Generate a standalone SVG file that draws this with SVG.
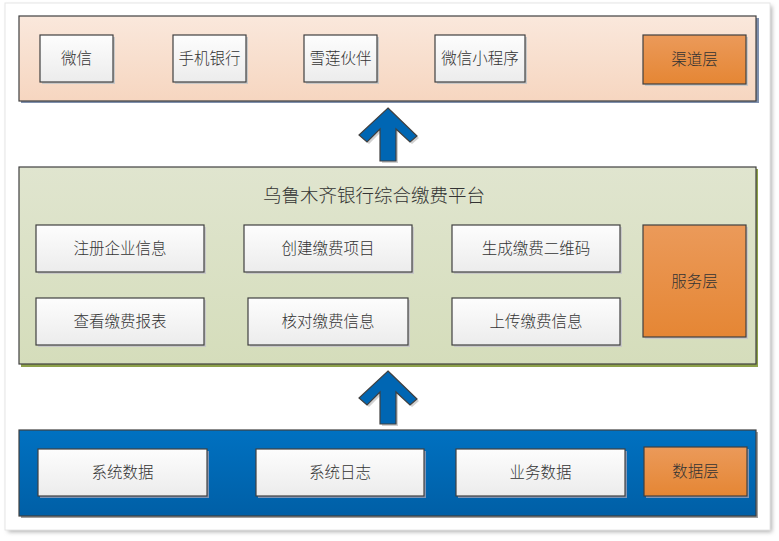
<svg xmlns="http://www.w3.org/2000/svg" width="779" height="541" viewBox="0 0 779 541">
<defs>
<linearGradient id="gPeach" x1="0" y1="0" x2="0" y2="1"><stop offset="0" stop-color="#fae8dc"/><stop offset="1" stop-color="#f6d6c0"/></linearGradient>
<linearGradient id="gGreen" x1="0" y1="0" x2="0" y2="1"><stop offset="0" stop-color="#e0e5cf"/><stop offset="1" stop-color="#d5ddbb"/></linearGradient>
<linearGradient id="gBlue" x1="0" y1="0" x2="0" y2="1"><stop offset="0" stop-color="#0071c1"/><stop offset="1" stop-color="#005fa6"/></linearGradient>
<linearGradient id="gBox" x1="0" y1="0" x2="0" y2="1"><stop offset="0" stop-color="#fdfdfd"/><stop offset="1" stop-color="#ececec"/></linearGradient>
<linearGradient id="gOrange" x1="0" y1="0" x2="0" y2="1"><stop offset="0" stop-color="#eb9a5a"/><stop offset="1" stop-color="#e58634"/></linearGradient>
<filter id="soft" x="-5%" y="-5%" width="110%" height="110%"><feGaussianBlur stdDeviation="2"/></filter>
</defs>
<style>
.box{fill:url(#gBox);stroke:#404040;stroke-width:1.2}
.org{fill:url(#gOrange);stroke:#404040;stroke-width:1.2}
.sh{fill:#c8c8c8}
.bsh{fill:#7f95b5}
.t{font-family:"Noto Sans CJK SC","Liberation Sans",sans-serif;font-size:15.5px;font-weight:300;fill:#333;text-anchor:middle;dominant-baseline:central}
.arrow{fill:#0066b3;stroke:#404040;stroke-width:1.2;stroke-linejoin:miter}
</style>
<!-- outer frame -->
<rect x="8" y="6" width="764" height="526" fill="#b0b0b0" filter="url(#soft)"/>
<rect x="5" y="3" width="765" height="527" fill="#ffffff" stroke="#e6e6e6" stroke-width="1"/>

<!-- channel layer -->
<g id="channel-layer">
<rect x="21" y="18" width="738" height="85" fill="#7f90ad"/>
<rect x="19" y="16" width="737" height="85" fill="url(#gPeach)" stroke="#404040" stroke-width="1.2"/>
</g>
<g id="n-weixin"><rect class="sh" x="42" y="37" width="73" height="47"/><rect class="box" x="40" y="35" width="73" height="47"/><text class="t" x="76.5" y="57">微信</text></g>
<g id="n-mobile"><rect class="sh" x="175" y="37" width="73" height="47"/><rect class="box" x="173" y="35" width="73" height="47"/><text class="t" x="209.5" y="57">手机银行</text></g>
<g id="n-xuelian"><rect class="sh" x="306" y="37" width="73" height="47"/><rect class="box" x="304" y="35" width="73" height="47"/><text class="t" x="340.5" y="57">雪莲伙伴</text></g>
<g id="n-miniapp"><rect class="sh" x="437" y="37" width="90" height="47"/><rect class="box" x="435" y="35" width="90" height="47"/><text class="t" x="480" y="57">微信小程序</text></g>
<g id="n-channel"><rect class="sh" x="645" y="37" width="103" height="49"/><rect class="org" x="643" y="35" width="103" height="49"/><text class="t" x="694.5" y="58">渠道层</text></g>

<!-- service layer -->
<g id="service-layer">
<rect x="21" y="169" width="737" height="198" fill="#8ea24a"/>
<rect x="19" y="167" width="737" height="197" fill="url(#gGreen)" stroke="#404040" stroke-width="1.2"/>
<text x="374" y="193.5" font-family="&quot;Noto Sans CJK SC&quot;,&quot;Liberation Sans&quot;,sans-serif" font-size="18.5" font-weight="300" fill="#333" text-anchor="middle" dominant-baseline="central">乌鲁木齐银行综合缴费平台</text>
</g>
<g id="n-register"><rect class="sh" x="38" y="227" width="168" height="47"/><rect class="box" x="36" y="225" width="168" height="47"/><text class="t" x="120" y="247">注册企业信息</text></g>
<g id="n-create"><rect class="sh" x="246" y="227" width="168" height="47"/><rect class="box" x="244" y="225" width="168" height="47"/><text class="t" x="328" y="247">创建缴费项目</text></g>
<g id="n-qrcode"><rect class="sh" x="454" y="227" width="168" height="47"/><rect class="box" x="452" y="225" width="168" height="47"/><text class="t" x="536" y="247">生成缴费二维码</text></g>
<g id="n-report"><rect class="sh" x="38" y="300" width="168" height="47"/><rect class="box" x="36" y="298" width="168" height="47"/><text class="t" x="120" y="320">查看缴费报表</text></g>
<g id="n-verify"><rect class="sh" x="250" y="300" width="160" height="47"/><rect class="box" x="248" y="298" width="160" height="47"/><text class="t" x="328" y="320">核对缴费信息</text></g>
<g id="n-upload"><rect class="sh" x="454" y="300" width="168" height="47"/><rect class="box" x="452" y="298" width="168" height="47"/><text class="t" x="536" y="320">上传缴费信息</text></g>
<g id="n-service"><rect class="sh" x="645" y="227" width="103" height="112"/><rect class="org" x="643" y="225" width="103" height="112"/><text class="t" x="694.5" y="279.5">服务层</text></g>

<!-- data layer -->
<g id="data-layer">
<rect x="21" y="432" width="737" height="86" fill="#a0a0a0"/>
<rect x="19" y="430" width="737" height="86" fill="url(#gBlue)" stroke="#404040" stroke-width="1.2"/>
</g>
<g id="n-sysdata"><rect class="bsh" x="40" y="451" width="169" height="47"/><rect class="box" x="38" y="449" width="169" height="47"/><text class="t" x="122.5" y="471">系统数据</text></g>
<g id="n-syslog"><rect class="bsh" x="258" y="451" width="168" height="47"/><rect class="box" x="256" y="449" width="168" height="47"/><text class="t" x="340" y="471">系统日志</text></g>
<g id="n-bizdata"><rect class="bsh" x="458" y="451" width="169" height="47"/><rect class="box" x="456" y="449" width="169" height="47"/><text class="t" x="540.5" y="471">业务数据</text></g>
<g id="n-data"><rect class="bsh" x="646" y="449" width="103" height="49"/><rect class="org" x="644" y="447" width="103" height="49"/><text class="t" x="695.5" y="470">数据层</text></g>

<!-- connectors -->
<g id="connectors">
<path d="M390,110 L419,138 L412,144 L398,131 L398,163 L382,163 L382,131 L369,144 L361,137 Z" fill="#d0d0d0"/>
<path class="arrow" d="M388,108 L417,136 L410,142 L396,129 L396,161 L380,161 L380,129 L367,142 L359,135 Z"/>
<path d="M390,373 L419,401 L412,407 L398,394 L398,426 L382,426 L382,394 L369,407 L361,400 Z" fill="#d0d0d0"/>
<path class="arrow" d="M388,371 L417,399 L410,405 L396,392 L396,424 L380,424 L380,392 L367,405 L359,398 Z"/>
</g>
</svg>
